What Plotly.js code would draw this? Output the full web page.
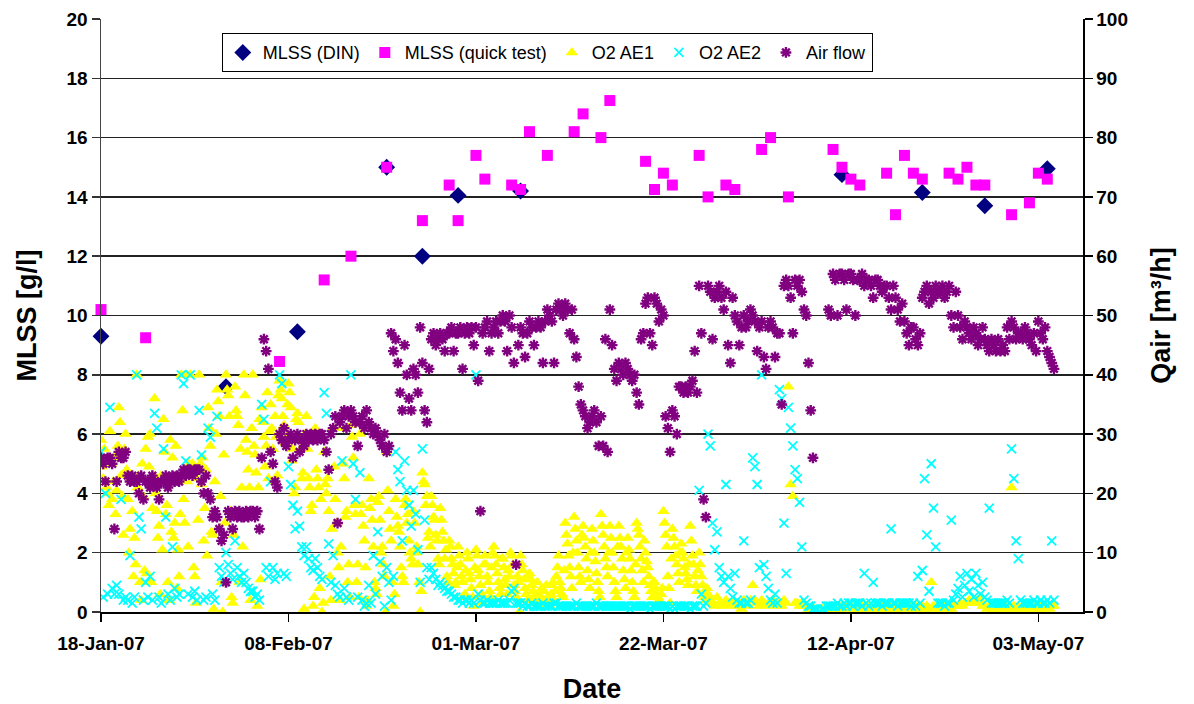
<!DOCTYPE html>
<html>
<head>
<meta charset="utf-8">
<script src="https://cdn.plot.ly/plotly-3.0.1.min.js"></script>
<style>
  html, body { margin: 0; padding: 0; background: #fff; }
  #chart { width: 1194px; height: 704px; }
</style>
</head>
<body>
<div id="chart"></div>
<script>
// MLSS laboratory results (g/l)
const dinDates = ['2007-01-18', '2007-02-01', '2007-02-09', '2007-02-19', '2007-02-23', '2007-02-27',
  '2007-03-06', '2007-04-11', '2007-04-20', '2007-04-27', '2007-05-04'];
const dinMLSS = [9.3, 7.6, 9.45, 15.0, 12.0, 14.05, 14.2, 14.75, 14.15, 13.7, 14.95];

const quickDates = ['2007-01-18', '2007-01-23', '2007-02-07', '2007-02-12', '2007-02-15', '2007-02-19',
  '2007-02-23', '2007-02-26', '2007-02-27', '2007-03-01', '2007-03-02', '2007-03-05', '2007-03-06',
  '2007-03-07', '2007-03-09', '2007-03-12', '2007-03-13', '2007-03-15', '2007-03-16', '2007-03-20',
  '2007-03-21', '2007-03-22', '2007-03-23', '2007-03-26', '2007-03-27', '2007-03-29', '2007-03-30',
  '2007-04-02', '2007-04-03', '2007-04-05', '2007-04-10', '2007-04-11', '2007-04-12', '2007-04-13',
  '2007-04-16', '2007-04-17', '2007-04-18', '2007-04-19', '2007-04-20', '2007-04-23', '2007-04-24',
  '2007-04-25', '2007-04-26', '2007-04-27', '2007-04-30', '2007-05-02', '2007-05-03', '2007-05-04'];
const quickMLSS = [10.2, 9.25, 8.45, 11.2, 12.0, 15.0,
  13.2, 14.4, 13.2, 15.4, 14.6, 14.4, 14.25,
  16.2, 15.4, 16.2, 16.8, 16.0, 17.25, 15.2,
  14.25, 14.8, 14.4, 15.4, 14.0, 14.4, 14.25,
  15.6, 16.0, 14.0, 15.6, 15.0, 14.6, 14.4,
  14.8, 13.4, 15.4, 14.8, 14.6, 14.8, 14.6,
  15.0, 14.4, 14.4, 13.4, 13.8, 14.8, 14.6];

// Online logger: one row per day starting 18-Jan-07; the readings of a row are
// spread evenly over that day (4 per day = every 6 h, 8 per day = every 3 h)
const LOG_START = [2007, 0, 18];

// Dissolved oxygen, aeration tank 1 (mg/l)
const o2AE1 = [
  [5.8,4.9,4.5,5.5,5.0,4.2,4.0,3.6],[6.1,5.0,3.8,4.4,5.2,3.3,4.1,5.6],[6.9,6.4,4.6,3.9,2.6,5.5,6.0,4.8],
  [3.8,2.0,2.8,4.5,3.4,1.2,2.5,1.6],[8.0,4.2,4.6,1.0,0.4,5.0,3.9,1.4],[5.5,1.3,5.9,4.9,6.0,1.0,3.5,4.6],
  [7.2,4.0,3.4,2.5,2.9,0.6,4.6,2.1],[6.5,5.4,3.3,3.6,1.0,0.4,5.8,2.7],[5.2,2.5,3.0,5.6,0.8,2.1,1.2,3.3],
  [8.0,6.8,3.8,3.0,8.0,4.4,2.2,5.0],[8.0,4.7,5.0,1.5,1.2,0.3,4.5,3.1],[8.0,5.0,4.3,5.2,2.4,3.5,4.8,1.9],
  [6.9,6.2,5.6,2.7,2.6,0.1,4.4,6.0],[7.5,7.1,6.6,3.9,1.0,0.0,5.3,3.0],[8.0,7.5,7.3,6.6,3.4,0.5,0.3,2.6],
  [7.6,6.8,6.6,6.3,1.0,5.5,4.2,2.2],[8.0,7.3,5.8,5.4,4.8,4.2,0.4,6.2],[8.0,5.6,5.3,4.7,0.2,4.2,6.5,1.1],
  [6.9,6.4,5.9,4.9,5.6,7.4,4.5,6.1],[7.0,6.2,5.5,4.4,6.6,5.9,4.6,7.3],[7.8,7.5,7.2,6.6,6.3,5.7,6.0,7.0],
  [7.7,7.4,6.9,5.1,5.5,4.0,4.2,6.5],[6.7,6.4,5.8,5.5,4.5,4.7,0.1,6.0],[6.6,5.5,4.5,4.2,3.4,3.6,0.2,0.5],
  [6.2,4.8,4.5,4.2,0.8,3.8,0.0,0.3],[5.4,4.3,4.0,4.5,3.4,1.2,0.4,2.8],[6.2,4.9,3.8,3.0,2.0,1.5,0.4,2.2],
  [6.2,5.0,4.5,3.2,3.4,1.0,1.6,0.5],[6.3,5.9,5.2,3.6,3.3,1.0,1.6,0.5],[6.0,3.3,3.6,2.9,2.4,1.5,0.2,0.4],
  [4.5,3.5,3.8,3.1,2.2,1.0,0.8,0.6],[3.7,3.9,3.1,2.0,2.2,1.6,1.2,0.0],[5.4,4.1,3.4,2.8,2.4,1.0,0.2,0.6],
  [3.8,3.2,2.9,2.7,2.2,1.5,1.2,1.0],[3.6,3.8,3.0,3.3,2.4,2.0,1.8,1.6],[3.4,3.0,2.0,2.2,1.6,1.0,0.0,0.7],
  [4.7,4.4,4.3,3.6,3.9,2.5,2.7,2.2],[3.9,3.6,3.2,3.1,2.6,2.4,1.8,1.6],[3.5,3.1,2.7,2.4,1.8,2.1,1.2,1.0],
  [2.4,2.2,1.8,1.6,1.3,0.9,1.0,1.5],[2.2,1.9,1.6,1.2,1.0,0.5,0.6,1.4],[2.0,1.8,1.3,1.1,0.8,0.5,0.2,1.5],
  [2.1,1.9,1.4,1.2,0.9,0.6,0.3,1.6],[1.9,1.6,1.2,1.0,0.7,0.5,1.5,2.0],[2.2,1.9,1.6,1.3,1.0,0.8,0.6,1.8],
  [1.8,1.5,1.1,0.9,0.6,1.4,1.2,2.0],[1.9,1.6,0.9,0.7,0.5,1.2,1.0,0.0],[1.9,1.6,1.4,1.1,0.8,0.6,0.4,1.2],
  [1.3,1.1,0.9,0.7,0.5,0.4,0.3,1.0],[0.6,0.5,0.3,0.8,0.4,0.7,0.2,0.9],[0.5,0.3,0.2,0.6,0.9,1.0,0.4,0.7],
  [1.2,1.5,1.9,1.0,0.8,0.6,0.5,1.4],[3.0,2.6,2.3,1.9,1.5,1.2,0.8,2.0],[3.2,2.8,2.4,2.0,1.5,1.2,1.0,2.6],
  [2.9,2.5,2.2,1.8,1.4,1.1,0.8,2.0],[2.8,2.4,2.0,1.7,1.3,1.0,0.7,0.5],[3.3,2.9,2.6,2.2,1.8,1.5,1.2,2.0],
  [2.9,2.5,2.0,1.5,1.0,0.7,0.5,2.2],[2.9,2.5,2.2,1.8,1.4,1.1,0.8,2.0],[2.5,2.1,1.8,1.4,1.0,0.7,0.5,1.6],
  [3.0,2.8,2.6,2.2,1.8,1.4,1.0,2.4],[2.0,1.7,1.5,1.2,0.9,0.7,0.5,1.0],[1.0,0.8,0.6,0.5,0.4,0.3,0.6,0.8],
  [3.4,3.0,2.6,2.2,1.2,0.8,0.3,1.8],[2.8,2.5,2.2,1.9,1.6,1.3,1.0,2.0],[2.3,2.0,1.8,1.5,1.3,1.1,0.9,1.6],
  [2.9,2.4,1.9,1.6,1.2,0.9,0.7,1.4],[2.0,1.6,1.2,0.9,0.6,0.5,0.4,0.8],
  [0.6,0.4,0.3,0.2],[0.5,0.3,0.2,0.3],
  [0.4,0.3,0.2,0.3],[0.3,0.2,0.3,0.1],[0.4,0.3,0.2,0.4],[0.9,0.4,0.3,0.2],[0.4,0.3,0.2,0.3],
  [0.3,0.4,0.2,0.3],[0.3,0.2,0.4,0.3],[7.6,4.3,3.9,0.3],[0.3,0.2,0.3,0.2],[0.2,0.1,0.1,0.0],
  [0.1,0.0,0.0,0.1],[0.0,0.0,0.1,0.0],[0.1,0.1,0.2,0.1],[0.2,0.1,0.2,0.2],[0.2,0.1,0.2,0.1],
  [0.1,0.2,0.1,0.2],[0.2,0.1,0.1,0.2],[0.1,0.2,0.2,0.1],[0.2,0.1,0.2,0.1],[0.1,0.2,0.1,0.2],
  [0.2,0.1,0.2,0.2],[0.1,0.2,0.1,0.1],[0.2,0.1,0.2,0.1],[1.0,0.2,0.1,0.2],[0.1,0.2,0.2,0.1],
  [0.2,0.1,0.2,0.2],[0.2,0.3,0.2,0.3],[0.3,0.4,0.3,0.4],[0.4,0.3,0.4,0.2],[0.2,0.1,0.2,0.1],
  [0.1,0.2,0.1,0.2],[0.2,0.1,0.2,0.1],[4.2,0.2,0.1,0.2],[0.1,0.2,0.1,0.2],[0.2,0.1,0.2,0.1],
  [0.1,0.2,0.2,0.1],[0.2,0.1,0.2,0.2]
];

// Dissolved oxygen, aeration tank 2 (mg/l)
const o2AE2 = [
  [5.4,0.5,4.0,0.6],[6.9,0.8,0.6,0.9],[0.6,3.8,0.4,0.5],[0.4,1.9,0.3,0.5],[8.0,3.2,2.8,0.4],
  [1.0,0.5,1.2,0.4],[6.7,6.2,0.5,0.3],[5.5,3.2,0.6,0.4],[2.2,0.8,0.5,0.6],[8.0,7.7,5.1,0.6],
  [8.0,0.5,0.7,0.4],[6.8,5.3,0.4,0.5],[6.2,5.9,0.6,0.4],[6.6,1.5,1.2,1.0],[2.0,1.6,1.3,1.1],
  [2.4,1.5,1.2,1.0],[1.3,1.0,0.8,0.7],[0.7,0.5,0.6,0.4],[7.0,6.5,1.5,1.2],[4.4,1.5,1.1,1.3],
  [8.0,7.7,1.3,1.2],[4.9,4.3,3.6,2.8],[3.4,2.9,2.2,1.9],[2.2,1.8,1.5,1.4],[1.8,1.5,1.2,1.1],
  [7.4,6.7,2.3,1.0],[1.9,0.9,0.6,0.5],[5.1,0.8,0.5,0.4],[8.0,5.0,3.8,0.5],[4.7,0.4,0.2,0.3],
  [0.9,0.3,1.9,0.6],[2.7,1.7,1.2,0.2],[1.5,1.0,0.4,1.2],[5.4,4.8,4.4,2.4],[5.1,4.1,3.6,2.9],
  [4.1,3.3,2.1,1.0],[5.5,3.1,1.5,1.1],[1.5,1.3,1.1,0.9],[1.0,0.9,0.8,0.7],[0.7,0.6,0.5,0.5],
  [0.4,0.4,0.3,0.4],[0.4,0.3,0.4,0.3],[8.0,0.6,0.4,0.3],[0.3,0.4,0.3,0.3],[0.3,0.3,0.4,0.3],
  [0.3,0.3,0.3,0.4],[0.7,0.8,0.3,0.3],[0.3,0.2,0.3,0.2],[0.2,0.3,0.2,0.2],[0.2,0.2,0.3,0.2],
  [0.2,0.2,0.2,0.3],[0.3,0.2,0.2,0.2],[0.2,0.2,0.2,0.2],[0.2,0.3,0.2,0.2],[0.2,0.2,0.2,0.2],
  [0.2,0.2,0.3,0.2],[0.2,0.2,0.2,0.2],[0.2,0.2,0.2,0.2],[0.2,0.2,0.2,0.2],[0.2,0.1,0.2,0.2],
  [0.2,0.2,0.2,0.2],[0.2,0.2,0.1,0.2],[0.2,0.2,0.2,0.2],[0.2,0.2,0.2,0.1],[0.2,0.1,0.2,0.2],
  [0.2,0.2,0.2,0.2],[0.1,0.2,0.2,0.2],[4.1,0.6,0.2,0.3],[6.0,5.6,3.0,2.1],[2.7,1.5,1.2,1.0],
  [4.3,1.2,0.8,0.5],[1.3,0.4,0.3,0.3],[2.4,0.3,0.3,0.4],[5.2,4.9,4.3,1.5],[8.0,1.6,1.2,0.8],
  [0.4,0.3,0.6,0.3],[7.5,7.2,3.0,1.3],[6.9,6.2,5.6,4.8],[4.5,3.7,2.2,0.4],[0.3,0.2,0.2,0.1],
  [0.1,0.1,0.0,0.1],[0.1,0.2,0.2,0.2],[0.2,0.2,0.3,0.2],[0.2,0.3,0.2,0.3],[0.3,0.2,0.3,0.3],
  [0.3,0.2,1.3,0.3],[0.2,0.3,1.0,0.3],[0.3,0.3,0.2,0.3],[0.3,0.3,2.8,0.3],[0.3,0.2,0.3,0.3],
  [0.3,0.3,0.3,0.2],[0.3,0.2,1.2,0.3],[1.4,4.5,2.6,0.7],[5.0,3.5,2.2,0.3],[0.3,0.3,0.2,0.3],
  [0.3,3.1,0.4,0.6],[0.8,1.2,0.5,0.9],[1.3,0.7,1.1,0.5],[1.3,0.9,0.6,1.0],[0.5,0.4,3.5,0.3],
  [0.3,0.3,0.3,0.3],[0.3,0.3,0.4,0.3],[5.5,4.5,2.4,1.8],[0.4,0.3,0.3,0.3],[0.3,0.3,0.4,0.3],
  [0.3,0.4,0.3,0.3],[0.4,0.3,2.4,0.4]
];

// Blower air flow (m³/h), null = no reading logged
const airFlow = [
  [26,25,22,26],[26,25,14,22],[27,26,26,27],[23,22,23,22],[22,20,23,19],
  [22,22,21,23],[22,21,19,22],[22,23,21,22],[23,22,23,22],[23,24,23,24],
  [24,23,24,24],[24,22,20,23],[20,19,16,17],[16,14,12,13],[5,17,16,14],
  [17,16,17,16],[16,17,16,17],[17,16,17,14],[26,46,44,41],[27,25,22,21],
  [30,29,31,28],[29,30,26,29],[30,27,29,28],[30,29,30,29],[30,29,30,30],
  [29,27,24,30],[31,33,15,32],[33,34,31,33],[34,33,32,28],[32,33,31,34],
  [32,31,30,31],[30,29,28,30],[27,28,47,44],[46,42,37,34],[45,40,36,34],
  [41,40,37,48],[42,34,32,41],[46,47,45,46],[47,46,44,47],[47,48,44,47],
  [47,48,41,47],[48,47,48,45],[48,39,17,47],[48,49,44,47],[48,49,47,49],
  [50,49,44,50],[48,42,8,45],[48,47,43,47],[49,48,45,48],[49,48,42,49],
  [51,50,49,42],[51,52,51,50],[52,51,47,51],[46,43,38,35],[34,33,31,32],
  [33,34,32,28],[33,28,46,27],[51,45,41,39],[42,41,40,42],[41,40,39,40],
  [37,35,46,47],[52,53,47,45],[53,52,49,51],[50,33,31,27],[34,33,30,38],
  [38,37,38,37],[38,39,44,37],[55,47,19,16],[55,54,46,53],[54,55,53,51],
  [54,45,42,53],[50,49,45,48],[50,48,49,51],[50,49,44,48],[49,43,41,48],
  [49,48,43,47],[47,35,55,56],[55,53,47,56],[55,56,54,51],[50,42,34,26],
  [null,null,null,null],[null,null,51,50],[57,56,50,57],[57,56,51,57],[57,56,50,56],
  [56,57,55,56],[56,55,53,56],[56,55,54,55],[55,53,51,55],[53,51,49,52],
  [49,47,45,48],[48,46,45,47],[53,54,55,52],[54,53,55,54],[54,55,53,54],
  [55,50,48,54],[50,48,46,49],[48,47,46,48],[47,45,46,48],[46,45,44,46],
  [45,44,46,44],[45,44,48,46],[49,48,46,47],[47,46,48,47],[46,45,47,44],
  [49,47,46,48],[44,43,42,41]
];

// Expand daily rows into (timestamp, value) pairs on the logger grid
function pad(n) { return String(n).padStart(2, '0'); }
function expandLog(rows) {
  const x = [], y = [];
  rows.forEach((row, day) => {
    const stepMinutes = (24 * 60) / row.length;
    row.forEach((v, slot) => {
      const t = new Date(Date.UTC(LOG_START[0], LOG_START[1], LOG_START[2] + day, 0, slot * stepMinutes));
      x.push(t.getUTCFullYear() + '-' + pad(t.getUTCMonth() + 1) + '-' + pad(t.getUTCDate()) +
        ' ' + pad(t.getUTCHours()) + ':' + pad(t.getUTCMinutes()));
      y.push(v);
    });
  });
  return { x, y };
}

const ae1 = expandLog(o2AE1);
const ae2 = expandLog(o2AE2);
const air = expandLog(airFlow);

const FONT = "'Liberation Sans', Arial, sans-serif";
const TICK_FONT = { family: FONT, size: 19, weight: 'bold', color: '#000' };
const AXIS_TITLE_FONT = { family: FONT, size: 27, weight: 'bold', color: '#000' };

const traces = [
  {
    name: 'MLSS (DIN)', x: dinDates, y: dinMLSS, type: 'scatter', mode: 'markers',
    marker: { symbol: 'diamond', size: 13, color: '#000080' }, cliponaxis: false
  },
  {
    name: 'MLSS (quick test)', x: quickDates, y: quickMLSS, type: 'scatter', mode: 'markers',
    marker: { symbol: 'square', size: 11, color: '#FF00FF' }, cliponaxis: false
  },
  {
    name: 'O2 AE1', x: ae1.x, y: ae1.y, type: 'scatter', mode: 'markers',
    marker: { symbol: 'triangle-up', size: 11, color: '#FFFF00' }
  },
  {
    name: 'O2 AE2', x: ae2.x, y: ae2.y, type: 'scatter', mode: 'markers',
    marker: { symbol: 'x-thin-open', size: 9, color: '#00FFFF', line: { width: 1.8, color: '#00FFFF' } }
  },
  {
    name: 'Air flow', x: air.x, y: air.y, yaxis: 'y2', type: 'scatter', mode: 'markers',
    marker: { symbol: 'asterisk-open', size: 9, color: '#800080', line: { width: 2.4, color: '#800080' } }
  }
];

const layout = {
  width: 1194,
  height: 704,
  margin: { l: 101, r: 111, t: 19, b: 92 },
  paper_bgcolor: '#ffffff',
  plot_bgcolor: '#ffffff',
  font: { family: FONT, size: 18, color: '#000' },
  showlegend: true,
  legend: {
    orientation: 'h', x: 0.123, y: 0.976, xanchor: 'left', yanchor: 'top',
    bgcolor: '#ffffff', bordercolor: '#000', borderwidth: 1,
    font: { family: FONT, size: 18, color: '#000' }, itemwidth: 30, tracegroupgap: 0
  },
  xaxis: {
    type: 'date',
    range: ['2007-01-18', '2007-05-08'],
    tick0: '2007-01-18',
    dtick: 21 * 86400000,
    tickformat: '%d-%b-%y',
    ticks: 'outside', ticklen: 8, tickcolor: '#000', tickwidth: 1.5,
    ticklabelstandoff: 6,
    showline: true, linecolor: '#000', linewidth: 1.5,
    showgrid: false, zeroline: false,
    tickfont: TICK_FONT,
    title: { text: 'Date', font: AXIS_TITLE_FONT, standoff: 26 }
  },
  yaxis: {
    range: [0, 20], dtick: 2,
    ticks: 'outside', ticklen: 8, tickcolor: '#333', tickwidth: 1.5,
    showline: true, linecolor: '#444', linewidth: 1.5,
    showgrid: true, gridcolor: '#222', gridwidth: 1.5, zeroline: false,
    tickfont: TICK_FONT,
    title: { text: 'MLSS [g/l]', font: AXIS_TITLE_FONT, standoff: 22 }
  },
  yaxis2: {
    overlaying: 'y', side: 'right',
    range: [0, 100], dtick: 10,
    ticks: 'outside', ticklen: 8, tickcolor: '#000', tickwidth: 1.5,
    showline: true, linecolor: '#000', linewidth: 1.5,
    showgrid: false, zeroline: false,
    tickfont: TICK_FONT,
    title: { text: 'Qair [m³/h]', font: AXIS_TITLE_FONT, standoff: 24 }
  }
};

Plotly.newPlot('chart', traces, layout, { displayModeBar: false, staticPlot: true });
</script>
</body>
</html>
